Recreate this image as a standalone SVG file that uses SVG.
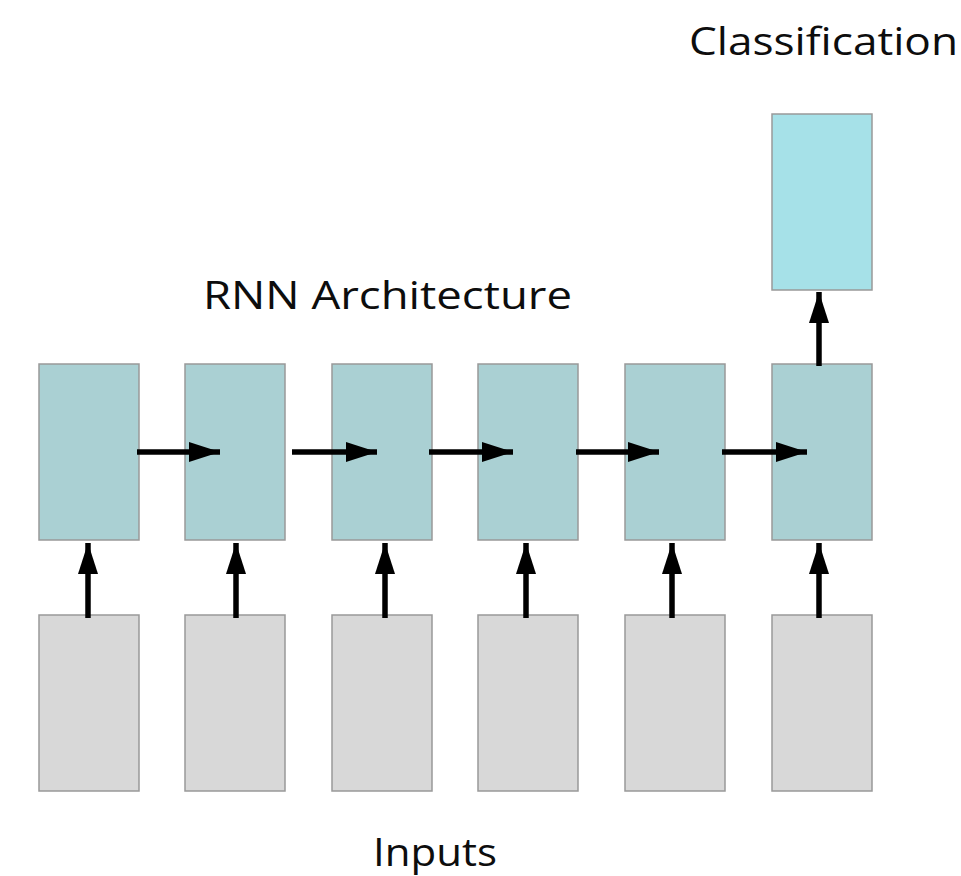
<svg xmlns="http://www.w3.org/2000/svg" width="961" height="876" viewBox="0 0 961 876">
<defs>
<style>
.rnn{fill:#aad0d3;stroke:#999;stroke-width:1.5}
.inp{fill:#d8d8d8;stroke:#999;stroke-width:1.5}
.cls{fill:#a6e1e8;stroke:#999;stroke-width:1.5}
.lbl{font-family:"Open Sans","Noto Sans",sans-serif;fill:#0d0d0d;font-variant-ligatures:none}
.arr{stroke:#000;stroke-width:5.5;fill:none;marker-end:url(#ah)}
</style>
<marker id="ah" markerUnits="userSpaceOnUse" markerWidth="34" markerHeight="22" refX="31" refY="10" orient="auto">
<path d="M0,0 L31,10 L0,20 z" fill="#000"/>
</marker>
</defs>
<rect width="961" height="876" fill="#fff"/>
<text class="lbl" x="689" y="55" font-size="39" textLength="269" lengthAdjust="spacingAndGlyphs">Classification</text>
<text class="lbl" x="203" y="309" font-size="37.5" textLength="369" lengthAdjust="spacingAndGlyphs">RNN Architecture</text>
<text class="lbl" x="373" y="866" font-size="39" textLength="124" lengthAdjust="spacingAndGlyphs">Inputs</text>
<g id="cls"><rect class="cls" x="772" y="114" width="100" height="176"/></g>
<g id="r1"><rect class="rnn" x="39" y="364" width="100" height="176"/></g>
<g id="r2"><rect class="rnn" x="185" y="364" width="100" height="176"/></g>
<g id="r3"><rect class="rnn" x="332" y="364" width="100" height="176"/></g>
<g id="r4"><rect class="rnn" x="478" y="364" width="100" height="176"/></g>
<g id="r5"><rect class="rnn" x="625" y="364" width="100" height="176"/></g>
<g id="r6"><rect class="rnn" x="772" y="364" width="100" height="176"/></g>
<g id="i1"><rect class="inp" x="39" y="615" width="100" height="176"/></g>
<g id="i2"><rect class="inp" x="185" y="615" width="100" height="176"/></g>
<g id="i3"><rect class="inp" x="332" y="615" width="100" height="176"/></g>
<g id="i4"><rect class="inp" x="478" y="615" width="100" height="176"/></g>
<g id="i5"><rect class="inp" x="625" y="615" width="100" height="176"/></g>
<g id="i6"><rect class="inp" x="772" y="615" width="100" height="176"/></g>
<g id="connectors">
<line class="arr" x1="137" y1="452" x2="220" y2="452"/>
<line class="arr" x1="292" y1="452" x2="377" y2="452"/>
<line class="arr" x1="429" y1="452" x2="513" y2="452"/>
<line class="arr" x1="576" y1="452" x2="659" y2="452"/>
<line class="arr" x1="722" y1="452" x2="807" y2="452"/>
<line class="arr" x1="88" y1="618" x2="88" y2="543"/>
<line class="arr" x1="236" y1="618" x2="236" y2="543"/>
<line class="arr" x1="385" y1="618" x2="385" y2="543"/>
<line class="arr" x1="526" y1="618" x2="526" y2="543"/>
<line class="arr" x1="672" y1="618" x2="672" y2="543"/>
<line class="arr" x1="819" y1="366" x2="819" y2="292"/>
<line class="arr" x1="819" y1="618" x2="819" y2="543"/>
</g>
</svg>
